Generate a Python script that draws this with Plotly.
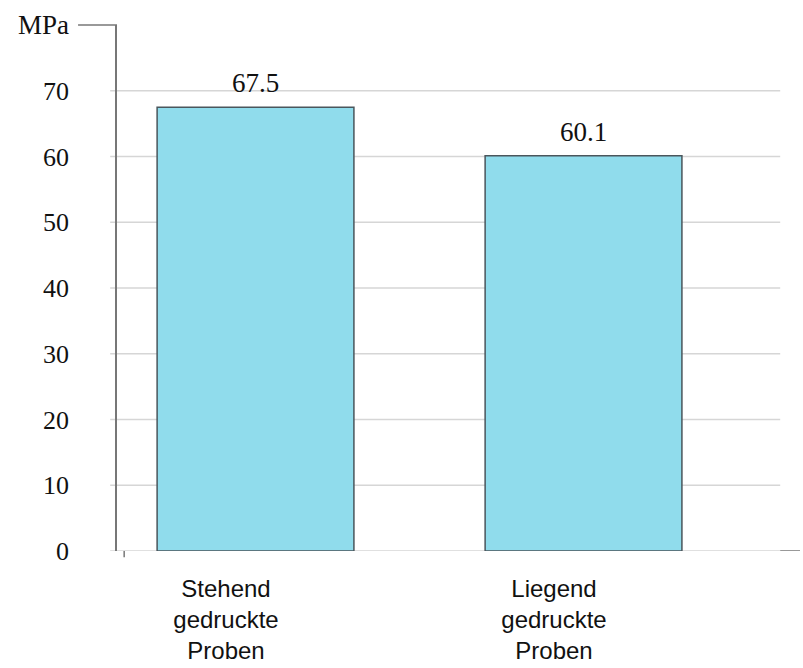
import plotly.graph_objects as go

# Tensile strength of printed specimens by build orientation
categories = ["Stehend<br>gedruckte<br>Proben", "Liegend<br>gedruckte<br>Proben"]
strength_mpa = [67.5, 60.1]
y_ticks = [0, 10, 20, 30, 40, 50, 60, 70]
unit_label = "MPa"

bar_pos = list(range(len(categories)))
label_pos = [p - 0.09 for p in bar_pos]

serif = "Liberation Serif, Times New Roman, serif"
sans = "Liberation Sans, Arial, sans-serif"

fig = go.Figure()
fig.add_trace(go.Bar(
    x=bar_pos,
    y=strength_mpa,
    width=0.6,
    marker=dict(color="#90dcec", line=dict(color="#4a565c", width=1.5)),
    hoverinfo="skip",
))

# value labels above bars
for x, v in zip(bar_pos, strength_mpa):
    fig.add_annotation(
        x=x, y=v, text=f"{v:.1f}", showarrow=False,
        yanchor="bottom", yshift=7,
        font=dict(family=serif, size=27, color="#111"),
    )

# y unit label at the top of the axis
fig.add_annotation(
    xref="paper", yref="paper", x=-0.068, y=1.0,
    xanchor="right", yanchor="middle", text=unit_label, showarrow=False,
    font=dict(family=serif, size=27, color="#111"),
)

shapes = []
# light gridlines, stopping short of the right edge
for t in y_ticks:
    shapes.append(dict(type="line", xref="paper", yref="y", x0=-0.01, x1=0.971,
                       y0=t, y1=t, line=dict(color="#d6d6d6", width=1.3), layer="below"))
# dark tail of the baseline
shapes.append(dict(type="line", xref="paper", yref="y", x0=0.971, x1=1.0,
                   y0=0, y1=0, line=dict(color="#777", width=1.5)))
# short stub at the top of the y axis, next to the unit label
shapes.append(dict(type="line", xref="paper", yref="paper", x0=-0.057, x1=0.0,
                   y0=1.0, y1=1.0, line=dict(color="#777", width=1.5)))
# small tick under the baseline
shapes.append(dict(type="line", xref="paper", yref="paper", x0=0.0105, x1=0.0105,
                   y0=0, y1=-0.012, line=dict(color="#777", width=1.5)))

fig.update_layout(
    width=803, height=668,
    margin=dict(l=117, r=3, t=25, b=117),
    paper_bgcolor="white", plot_bgcolor="white",
    showlegend=False,
    shapes=shapes,
    xaxis=dict(
        range=[-0.4223, 1.66],
        tickmode="array", tickvals=label_pos, ticktext=categories,
        showgrid=False, zeroline=False, showline=False, ticks="",
        tickfont=dict(family=sans, size=24, color="#111"),
        ticklabelstandoff=21,
        automargin=False,
    ),
    yaxis=dict(
        range=[0, 80],
        tickmode="array", tickvals=y_ticks,
        showgrid=False, zeroline=False,
        showline=True, linecolor="#777", linewidth=1.5,
        ticks="", ticklabelstandoff=41,
        tickfont=dict(family=serif, size=26, color="#111"),
        automargin=False,
    ),
)

fig.write_html("out.html")
